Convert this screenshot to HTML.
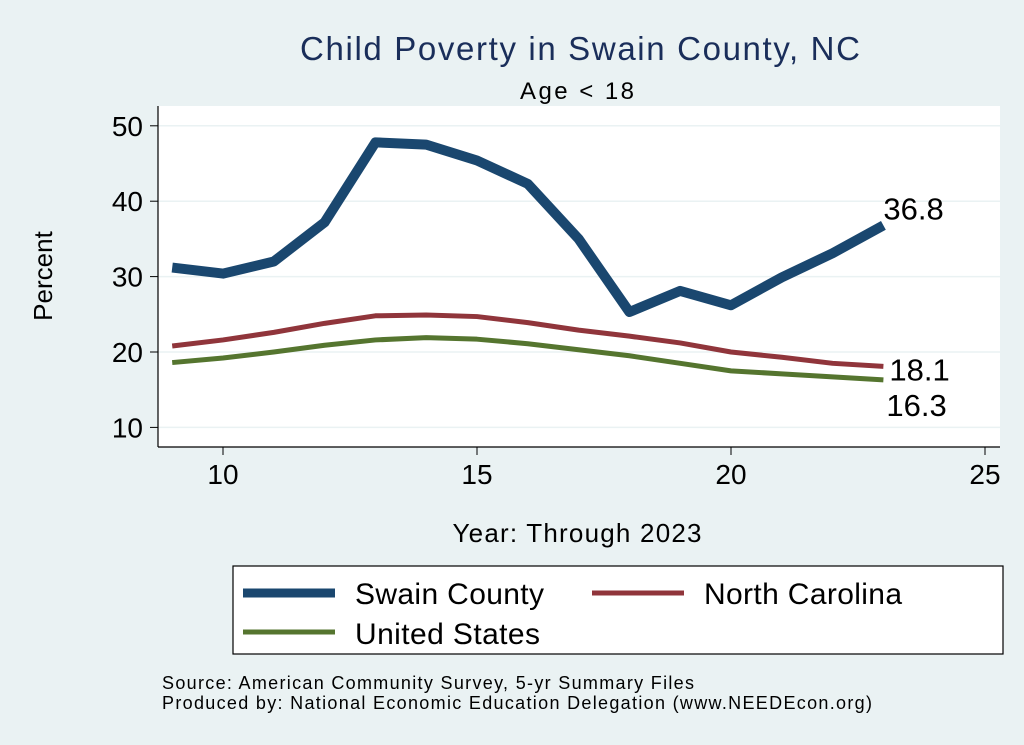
<!DOCTYPE html>
<html><head><meta charset="utf-8"><style>
body{margin:0;background:#eaf2f3;font-family:"Liberation Sans",Arial,sans-serif;}
svg{display:block}
</style></head><body>
<svg width="1024" height="745">
<rect width="1024" height="745" fill="#eaf2f3"/>
<text x="580" y="60" font-size="33" fill="#1a2e5a" text-anchor="middle" textLength="560">Child Poverty in Swain County, NC</text>
<text x="577" y="99" font-size="24" fill="#000" text-anchor="middle" textLength="114">Age &lt; 18</text>
<rect x="158" y="106" width="842" height="341" fill="#fff"/>
<g id="grid"></g>
<line x1="158" y1="106" x2="158" y2="447" stroke="#000" stroke-width="1.2"/>
<line x1="158" y1="447" x2="1000" y2="447" stroke="#000" stroke-width="1.2"/>
<g id="ticks"></g>
<g id="series"></g>
<text x="52" y="276" font-size="26" text-anchor="middle" transform="rotate(-90 52 276)">Percent</text>
<text x="577" y="542" font-size="26" text-anchor="middle" textLength="249">Year: Through 2023</text>
<g>
<rect x="233" y="566" width="770" height="88" fill="#fff" stroke="#000" stroke-width="1.2"/>
<line x1="243" y1="593" x2="335" y2="593" stroke="#1a476f" stroke-width="9"/>
<text x="355" y="604" font-size="30" textLength="189">Swain County</text>
<line x1="592" y1="593" x2="684" y2="593" stroke="#90353b" stroke-width="5"/>
<text x="704" y="604" font-size="30" textLength="198">North Carolina</text>
<line x1="243" y1="632" x2="335" y2="632" stroke="#55752f" stroke-width="5"/>
<text x="355" y="644" font-size="30" textLength="185">United States</text>
</g>
<text x="162" y="689" font-size="18" textLength="532">Source: American Community Survey, 5-yr Summary Files</text>
<text x="162" y="709" font-size="18" textLength="710">Produced by: National Economic Education Delegation (www.NEEDEcon.org)</text>
</svg>
<script>
const years=[9,10,11,12,13,14,15,16,17,18,19,20,21,22,23];
const swain=[31.2,30.4,32.0,37.2,47.8,47.5,45.4,42.3,35.0,25.3,28.1,26.2,29.9,33.1,36.8];
const nc=[20.8,21.6,22.6,23.8,24.8,24.9,24.7,23.9,22.9,22.1,21.2,20.0,19.3,18.5,18.1];
const us=[18.6,19.2,20.0,20.9,21.6,21.9,21.7,21.1,20.3,19.5,18.5,17.5,17.1,16.7,16.3];
const xTicks=[10,15,20,25];
const yTicks=[10,20,30,40,50];
const NS="http://www.w3.org/2000/svg";
const X=v=>223+(v-10)*50.8;
const Y=v=>352-(v-20)*7.54;
function mk(tag,attrs,parent){const e=document.createElementNS(NS,tag);for(const k in attrs)e.setAttribute(k,attrs[k]);parent.appendChild(e);return e;}
const grid=document.getElementById('grid'),ticks=document.getElementById('ticks'),ser=document.getElementById('series');
yTicks.forEach(t=>{
 const g=mk('line',{x1:158,x2:1000,y1:Y(t),y2:Y(t),stroke:'#eaf2f3','stroke-width':1.5},grid);
 
 
 const tk=mk('line',{x1:150,x2:158,y1:Y(t),y2:Y(t),stroke:'#000'},ticks);
 
 
 const tx=mk('text',{x:143,y:Y(t)+10,'font-size':28,'text-anchor':'end'},ticks);tx.textContent=t;
 
 
});
xTicks.forEach(t=>{
 const tk=mk('line',{x1:X(t),x2:X(t),y1:447,y2:455,stroke:'#000'},ticks);
 
 
 const tx=mk('text',{x:X(t),y:484,'font-size':28,'text-anchor':'middle'},ticks);tx.textContent=t;
 
 
});
function line(vals,color,w,name){
 const p=mk('polyline',{points:vals.map((v,i)=>X(years[i])+','+Y(v)).join(' '),fill:'none',stroke:color,'stroke-width':w,'stroke-linejoin':'round'},ser);
 
 
}
line(us,'#55752f',5,'line-united-states');
line(nc,'#90353b',5,'line-north-carolina');
line(swain,'#1a476f',10,'line-swain-county');
const last=years.length-1;
[[swain[last],0,-6,'label-swain-end'],[nc[last],6,14,'label-nc-end'],[us[last],3,36,'label-us-end']].forEach(([v,dx,dy,n])=>{
 const t=mk('text',{x:X(years[last])+dx,y:Y(v)+dy,'font-size':31},ser);t.textContent=v.toFixed(1);
 
 
});
</script>
</body></html>
